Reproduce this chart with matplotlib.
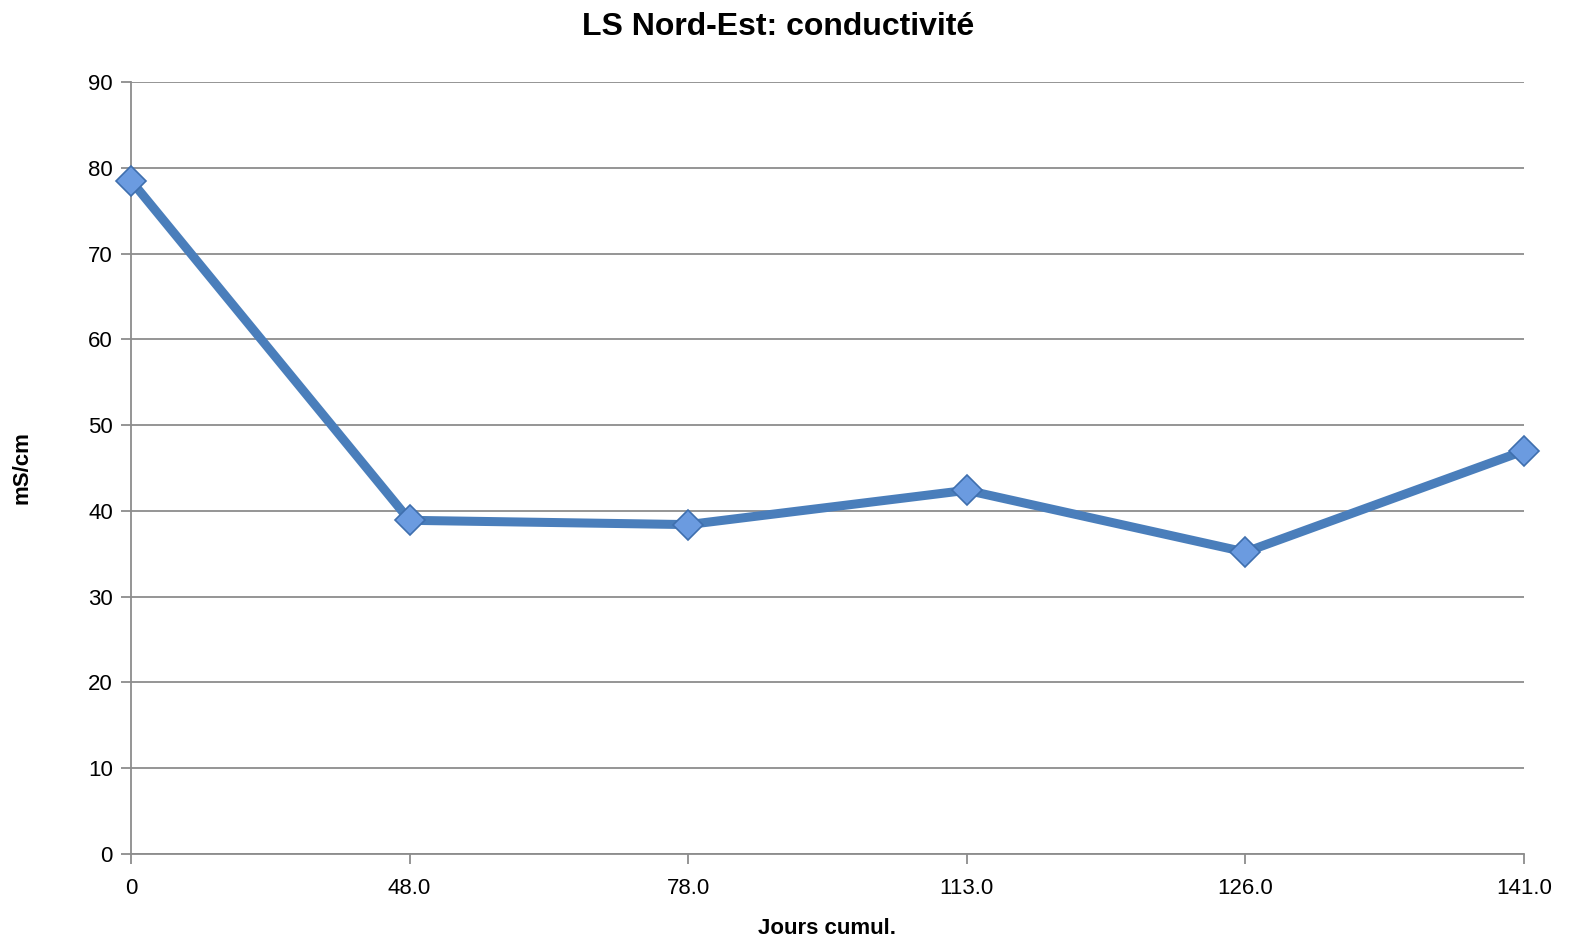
import matplotlib
matplotlib.use("Agg")
import matplotlib.pyplot as plt

plt.rcParams['font.family'] = ['Liberation Sans', 'DejaVu Sans']

categories = ["0", "48.0", "78.0", "113.0", "126.0", "141.0"]
values = [78.5, 38.9, 38.4, 42.4, 35.2, 47.0]
y_ticks = [0, 10, 20, 30, 40, 50, 60, 70, 80, 90]

fig = plt.figure(figsize=(15.69, 9.42), dpi=100)
ax = fig.add_axes([0.0835, 0.0934, 0.9713 - 0.0835, 0.9130 - 0.0934])

x = list(range(len(categories)))
ax.plot(x, values, color='#4a7ebb', linewidth=6.5, solid_capstyle='round', zorder=3)
ax.plot(x, values, linestyle='none', marker='D', markersize=15,
        markerfacecolor='#6b9be0', markeredgecolor='#3f6fae', markeredgewidth=1.2, zorder=4,
        clip_on=False)

ax.set_xlim(0, len(categories) - 1)
ax.set_ylim(0, 90)
ax.set_xticks(x)
ax.set_xticklabels(categories)
ax.set_yticks(y_ticks)
ax.yaxis.grid(True, color='#8c8c8c', linewidth=1.3)
ax.set_axisbelow(True)
for s in ['top', 'right']:
    ax.spines[s].set_visible(False)
for s in ['left', 'bottom']:
    ax.spines[s].set_color('#8c8c8c')
    ax.spines[s].set_linewidth(1.3)
ax.tick_params(axis='both', colors='#8c8c8c', width=1.3, length=7, labelsize=16, labelcolor='black')
ax.tick_params(axis='x', pad=10)
ax.tick_params(axis='y', pad=6)

fig.text(0.496, 0.971, "LS Nord-Est: conductivité", fontsize=23, fontweight='bold',
         ha='center', va='center')
ax.set_xlabel("Jours cumul.", fontsize=16, fontweight='bold', labelpad=14)
ax.set_ylabel("mS/cm", fontsize=16, fontweight='bold', labelpad=40)

fig.savefig("out.png", dpi=100)
